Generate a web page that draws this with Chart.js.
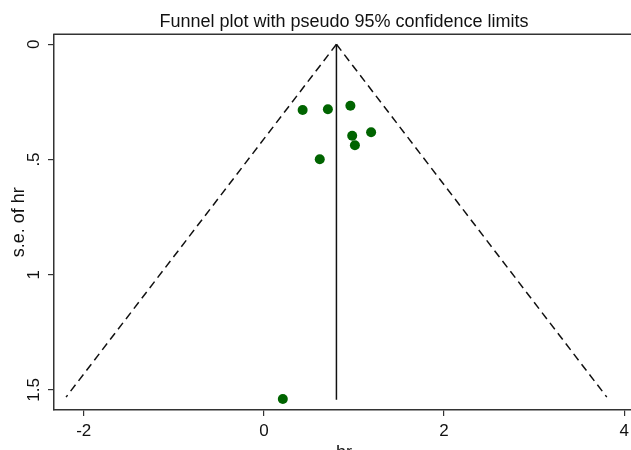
<!DOCTYPE html>
<html>
<head>
<meta charset="utf-8">
<script src="https://cdn.jsdelivr.net/npm/chart.js@4/dist/chart.umd.min.js"></script>
<style>
  html, body { margin: 0; padding: 0; background: #ffffff; overflow: hidden; width: 631px; height: 450px; }
  #wrap { position: absolute; left: 0; top: 0; width: 688px; height: 464px; }
</style>
</head>
<body>
<div id="wrap"><canvas id="c" width="688" height="464"></canvas></div>
<script>
// ---- data ----
const studyHr = [0.43, 0.71, 0.96, 1.19, 0.98, 1.01, 0.62, 0.21];
const studySe = [0.285, 0.282, 0.267, 0.382, 0.397, 0.438, 0.499, 1.539];

const pooledHr = [0.805, 0.805];
const pooledSe = [0, 1.542];

const funnelLeftHr = [0.805, -2.196];
const funnelRightHr = [0.805, 3.806];
const funnelSe = [0, 1.531];

const xTickValues = [-2, 0, 2, 4];
const xTickLabels = ['-2', '0', '2', '4'];
const yTickValues = [0, 0.5, 1, 1.5];
const yTickLabels = ['0', '.5', '1', '1.5'];

const titleText = 'Funnel plot with pseudo 95% confidence limits';
const xTitle = 'hr';
const yTitle = 's.e. of hr';

function pts(xs, ys) { return xs.map((x, i) => ({ x: x, y: ys[i] })); }

const FONT = 'Arial, "Liberation Sans", Helvetica, sans-serif';
const LINE = '#333333';
const TEXT = '#111111';

const topBorder = {
  id: 'topBorder',
  afterDraw(chart) {
    const { ctx, chartArea } = chart;
    ctx.save();
    ctx.strokeStyle = LINE;
    ctx.lineWidth = 1.5;
    ctx.beginPath();
    ctx.moveTo(chartArea.left - 0.75, chartArea.top);
    ctx.lineTo(chartArea.right, chartArea.top);
    ctx.stroke();
    ctx.restore();
  }
};

new Chart(document.getElementById('c'), {
  type: 'scatter',
  data: {
    datasets: [
      {
        label: 'studies',
        data: pts(studyHr, studySe),
        backgroundColor: '#006400',
        borderWidth: 0,
        pointRadius: 5,
        pointHoverRadius: 5,
        order: 0
      },
      {
        label: 'pooled',
        data: pts(pooledHr, pooledSe),
        showLine: true,
        borderColor: '#111111',
        borderWidth: 1.5,
        pointRadius: 0,
        order: 1
      },
      {
        label: 'lower limit',
        data: pts(funnelLeftHr, funnelSe),
        showLine: true,
        borderColor: '#111111',
        borderWidth: 1.5,
        borderDash: [8, 5],
        pointRadius: 0,
        order: 2
      },
      {
        label: 'upper limit',
        data: pts(funnelRightHr, funnelSe),
        showLine: true,
        borderColor: '#111111',
        borderWidth: 1.5,
        borderDash: [8, 5],
        pointRadius: 0,
        order: 2
      }
    ]
  },
  options: {
    responsive: false,
    animation: false,
    devicePixelRatio: 1,
    layout: { padding: { left: 0, right: 54, top: 0, bottom: 0 } },
    plugins: {
      legend: { display: false },
      tooltip: { enabled: false },
      title: { display: false }
    },
    scales: {
      xTop: {
        type: 'linear',
        position: 'top',
        min: -2.33,
        max: 4.108,
        afterFit(s) { s.height = 34.3; },
        ticks: { display: false },
        grid: { display: false, drawTicks: false },
        border: { display: false },
        title: {
          display: true,
          text: titleText,
          color: TEXT,
          font: { family: FONT, size: 18, weight: 'normal', lineHeight: 1.2 },
          padding: { top: 11, bottom: 0 }
        }
      },
      x: {
        type: 'linear',
        position: 'bottom',
        min: -2.33,
        max: 4.108,
        afterFit(s) { s.height = 54; },
        afterBuildTicks(s) { s.ticks = xTickValues.map(v => ({ value: v })); },
        ticks: {
          includeBounds: false,
          color: TEXT,
          font: { family: FONT, size: 17 },
          padding: 5,
          maxRotation: 0,
          callback(v) { const i = xTickValues.indexOf(v); return i >= 0 ? xTickLabels[i] : ''; }
        },
        grid: { display: true, drawOnChartArea: false, drawTicks: true, tickLength: 6, color: LINE, lineWidth: 1.2 },
        border: { display: true, color: LINE, width: 1.5 },
        title: {
          display: true,
          text: xTitle,
          color: TEXT,
          font: { family: FONT, size: 18, lineHeight: 1.2 },
          padding: { top: 0, bottom: 0 }
        }
      },
      y: {
        type: 'linear',
        reverse: true,
        min: -0.0434,
        max: 1.587,
        afterFit(s) { s.width = 54; },
        afterBuildTicks(s) { s.ticks = yTickValues.map(v => ({ value: v })); },
        ticks: {
          includeBounds: false,
          color: TEXT,
          font: { family: FONT, size: 17 },
          minRotation: 90,
          maxRotation: 90,
          padding: 2,
          crossAlign: 'center',
          callback(v) { const i = yTickValues.indexOf(v); return i >= 0 ? yTickLabels[i] : ''; }
        },
        grid: { display: true, drawOnChartArea: false, drawTicks: true, tickLength: 6, color: LINE, lineWidth: 1.2 },
        border: { display: true, color: LINE, width: 1.5 },
        title: {
          display: true,
          text: yTitle,
          color: TEXT,
          font: { family: FONT, size: 18, lineHeight: 1.2 },
          padding: { top: 8, bottom: 0 }
        }
      }
    }
  },
  plugins: [topBorder]
});
</script>
</body>
</html>
